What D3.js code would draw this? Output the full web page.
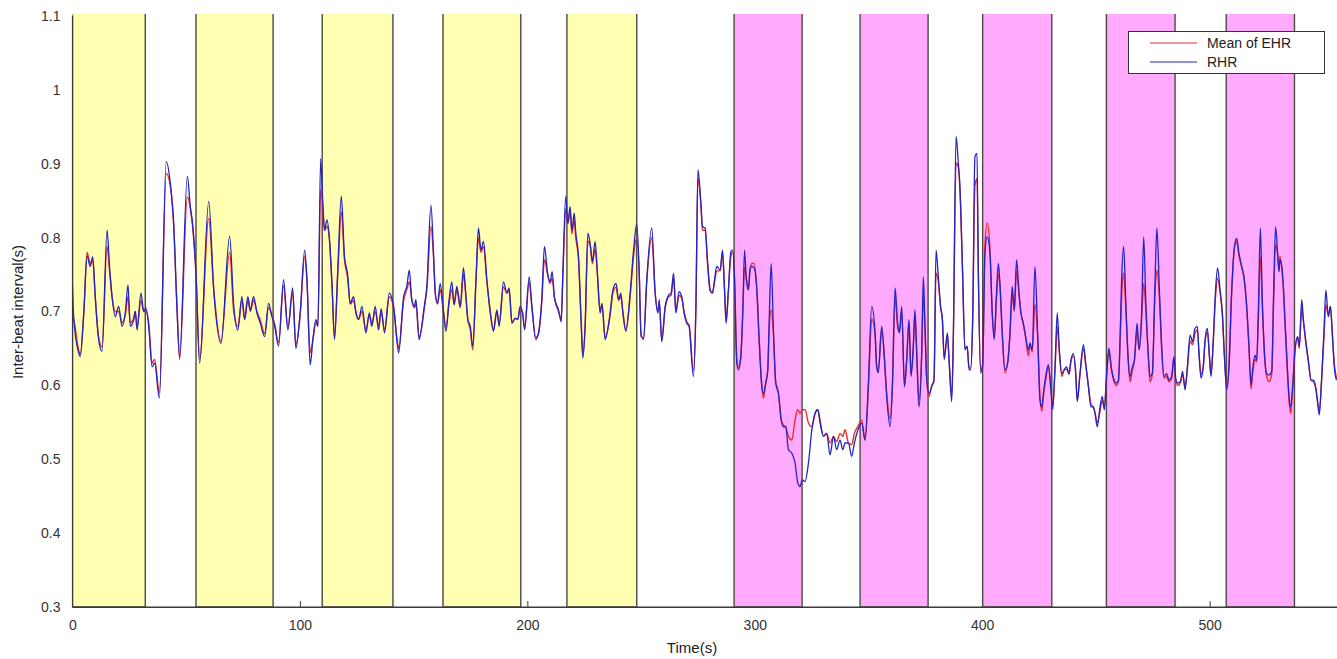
<!DOCTYPE html>
<html>
<head>
<meta charset="utf-8">
<script src="https://cdn.jsdelivr.net/npm/d3@7/dist/d3.min.js"></script>
<style>
  html, body { margin: 0; padding: 0; background: #fff; }
  svg { display: block; font-family: "Liberation Sans", Arial, sans-serif; }
</style>
</head>
<body>
<svg id="chart" width="1337" height="659"></svg>
<script>
// ---------------- data ----------------
const xTicks = [0, 100, 200, 300, 400, 500];
const yTicks = [0.3, 0.4, 0.5, 0.6, 0.7, 0.8, 0.9, 1.0, 1.1];
const yTickLabels = ["0.3", "0.4", "0.5", "0.6", "0.7", "0.8", "0.9", "1", "1.1"];

// rest periods (yellow) and task periods (pink), seconds
const yellowBands = [[0, 32], [54.3, 88.2], [109.8, 140.9], [162.9, 197.1], [217.4, 248.1]];
const pinkBands = [[290.9, 320.8], [346.3, 376.2], [400.2, 430.6], [454.6, 484.8], [507.3, 537.3]];

const seriesNames = ["Mean of EHR", "RHR"];

const time = [
  0, 0.5, 2.7, 3.4, 5.0, 6.4, 7.8, 8.9, 10, 11.5, 13, 15.2, 16.3, 17.4, 18.8, 20.3, 21.8, 23.2, 24.4, 25.4, 26.9, 27.6, 28.4, 30.1, 31.3, 32.3, 33.5, 35.0, 36.1, 38.2, 41.2, 43.0, 44.5, 45.9, 47.1, 50.5, 51.8, 52.8, 54.3, 55.9, 59.9, 62.1, 65.3, 69.1, 70.9,
  72.7, 74.5, 75.7, 77.1, 78.2, 79.6, 81.1, 82.6, 84.5, 86.2, 87.7, 88.9, 90.6, 92.8, 94.7, 96.8, 98.2, 100.1, 102.1, 103.1, 104.5, 105.7, 107.0, 107.9, 109.1, 110.0, 110.8, 111.9, 112.9, 114.1, 115.2, 116.7, 118.2, 119.6, 121.0, 122.1, 123.6, 124.6, 125.8, 127.3, 129.0, 130.5, 131.6, 133.1, 134.6, 135.7, 137.2, 139.3, 141.2, 142.6,
  143.4, 145.6, 147.0, 148.1, 149.2, 150.3, 151.0, 152.4, 154.7, 155.8, 157.6, 158.8, 159.5, 160.5, 161.7, 162.9, 164.2, 165.6, 166.8, 167.8, 169.0, 170.5, 171.9, 173.0, 173.8, 174.9, 176.0, 177.4, 178.5, 179.6, 180.7, 182.2, 183.7, 185.1, 186.6, 187.6, 189.5, 191.0, 192.0, 193.2, 194.7, 195.8, 196.8, 197.9, 198.8, 200.8, 202.0, 203.7, 204.9, 206.4, 207.5, 208.9, 210.0, 210.9, 211.9,
  213.7, 214.9, 215.6, 216.9, 217.8, 218.8, 219.6, 220.6, 221.3, 222.5, 223.7, 224.4, 225.4, 226.6, 227.6, 228.6, 229.8, 230.8, 232.0, 232.8, 234.2, 236.4, 237.6, 239.0, 240.1, 241.1, 242.0, 243.3, 245.2, 246.7, 248.1, 249.2, 250.0, 251.1, 252.5, 254.7, 256.2, 257.4, 258.0, 259.1, 260.6, 262.1, 263.2, 264.3, 265.3, 266.7, 267.9, 268.9, 270.1, 271.1, 273.0, 274.1, 275.0, 276.3, 277.0, 278.2, 279.2, 280.4, 281.4, 282.3, 283.3,
  284.8, 285.8, 286.7, 287.4, 288.4, 289.5, 290.3, 291.1, 292.1, 292.8, 293.8, 294.7, 295.5, 296.3, 297.2, 297.9, 298.7, 299.7, 300.9, 301.9, 303.1, 303.8, 304.8, 305.7, 306.3, 307.2, 308.2, 309.2, 310.4, 311.6, 312.6, 313.6, 314.8, 316.3, 317.7, 318.9, 319.9, 320.9, 322.1, 323.6, 325.1, 326.5, 327.7, 328.7, 330.2, 331.6, 333.1, 334.6, 336.0, 337.5, 338.7, 339.7, 341.2, 342.6, 343.8, 345.6, 347.0, 348.5, 350.0, 351.4, 352.9, 353.6,
  354.3, 355.8, 357.0, 358.0, 359.5, 360.5, 361.7, 362.8, 363.6, 364.6, 365.8, 366.8, 367.8, 368.7, 369.7, 370.4, 371.2, 372.2, 373.4, 374.1, 374.8, 375.6, 376.6, 377.8, 378.8, 379.7, 380.7, 381.7, 382.5, 383.3, 384.7, 385.4, 386.6, 387.3, 388.5, 389.5, 390.2, 391.3, 392.4, 393.4, 394.2, 394.9, 395.8, 396.8, 397.7, 398.3, 399.3, 400.2, 401.2, 402.2, 403.4, 404.4, 405.3, 406.3, 407.1, 407.8, 408.8, 410.0, 411.2, 412.2, 413.2, 414.1, 415.1, 416.2, 417.0, 418.1, 419.1, 420.3, 421.0, 422.0, 423.2,
  424.4, 425.4, 426.2, 426.9, 427.9, 429.1, 430.1, 431.0, 432.0, 433.0, 433.9, 435.0, 436.0, 437.1, 438.2, 439.0, 440.1, 441.1, 441.8, 443.0, 444.5, 445.5, 446.7, 447.8, 448.9, 449.6, 450.6, 451.8, 452.8, 453.7, 454.7, 455.7, 456.9, 458.0, 458.8, 459.9, 460.6, 461.3, 462.2, 463.2, 464.2, 465.0, 466.0, 466.9, 468.1, 469.0, 470.1, 471.0, 472.0, 473.0, 473.8, 474.8, 476.0, 476.8, 477.9, 478.9, 479.9, 481.1, 482.1, 483.3, 484.3, 485.2, 486.2, 487.3, 488.1, 489.2, 490.2, 491.4, 492.5, 493.5,
  494.6, 495.3, 496.2, 497.2, 498.0, 499.0, 499.9, 500.6, 501.6, 502.6, 503.5, 504.6, 505.6, 506.5, 507.5, 508.5, 509.7, 510.9, 511.9, 512.9, 514.1, 515.1, 516.3, 517.3, 518.2, 518.9, 519.9, 520.7, 521.4, 522.3, 523.2, 524.3, 525.1, 526.1, 527.3, 528.1, 529.0, 529.8, 530.5, 530.9, 531.7, 532.4, 533.1, 534.2, 534.9, 535.6, 536.5, 537.5, 538.7, 539.4, 540.5, 541.2, 542.2, 543.4, 544.6, 545.6, 546.6, 547.5, 548.2, 549.2, 550.3, 551.1, 552.2, 553.1, 553.9, 554.8, 555.8
];

const rhr = [
  .735,.693,.644,.639,.70,.775,.761,.774,.72,.662,.646,.810,.76,.720,.693,.707,.680,.698,.736,.680,.689,.70,.675,.725,.700,.705,.680,.625,.630,.583,.903,.874,.819,.707,.639,.883,.842,.819,.752,.630,.849,.729,.657,.802,.707,
  .675,.720,.689,.720,.702,.720,.698,.684,.666,.711,.693,.680,.653,.743,.675,.732,.650,.698,.783,.743,.628,.662,.689,.680,.907,.851,.810,.824,.801,.738,.662,.761,.856,.774,.750,.711,.720,.698,.689,.707,.671,.698,.680,.707,.675,.704,.671,.725,.707,.662,
  .644,.720,.734,.756,.716,.707,.716,.662,.707,.734,.844,.774,.725,.711,.738,.707,.673,.716,.740,.709,.734,.707,.759,.720,.689,.680,.653,.743,.813,.783,.795,.743,.698,.673,.702,.680,.740,.725,.732,.684,.691,.689,.707,.698,.675,.747,.707,.662,.671,.720,.788,.752,.740,.754,.720,
  .702,.686,.752,.856,.819,.842,.810,.833,.806,.774,.680,.637,.680,.806,.792,.768,.795,.752,.698,.711,.662,.698,.729,.738,.716,.725,.698,.673,.725,.783,.819,.752,.666,.664,.743,.813,.725,.698,.716,.659,.707,.722,.725,.752,.698,.727,.720,.698,.684,.680,.612,.707,.892,.847,.815,.813,.770,.729,.725,.743,.761,
  .756,.783,.729,.684,.729,.781,.783,.743,.630,.621,.635,.698,.783,.743,.729,.756,.761,.759,.729,.662,.598,.589,.603,.621,.684,.765,.675,.603,.589,.553,.544,.544,.513,.508,.495,.468,.463,.472,.470,.495,.540,.562,.567,.549,.531,.535,.506,.531,.513,.526,.513,.522,.522,.504,.522,.542,.549,.526,.607,.707,.671,.625,
  .617,.680,.635,.585,.544,.598,.732,.684,.671,.707,.598,.635,.689,.612,.653,.702,.644,.571,.644,.747,.684,.608,.589,.598,.608,.783,.747,.707,.689,.635,.671,.635,.578,.666,.937,.901,.869,.761,.648,.653,.621,.621,.689,.910,.914,.756,.617,.626,.779,.801,.779,.698,.662,.725,.765,.738,.671,.621,.630,.671,.734,.702,.770,.725,.698,.684,.666,.648,.657,.648,.761,
  .666,.580,.571,.589,.612,.628,.598,.567,.625,.698,.648,.616,.621,.625,.616,.634,.643,.616,.578,.616,.655,.630,.598,.571,.571,.562,.544,.571,.585,.567,.616,.650,.621,.607,.603,.607,.662,.743,.788,.707,.634,.612,.625,.634,.684,.648,.698,.801,.707,.643,.612,.616,.743,.813,.729,.653,.612,.616,.607,.612,.639,.607,.603,.607,.619,.594,.625,.668,.659,.677,
  .680,.644,.610,.625,.662,.677,.639,.612,.662,.729,.759,.729,.698,.639,.594,.625,.729,.788,.799,.779,.761,.747,.707,.653,.601,.621,.641,.634,.698,.813,.711,.634,.616,.614,.619,.720,.815,.783,.754,.770,.761,.734,.689,.621,.585,.571,.598,.648,.666,.653,.716,.689,.662,.634,.607,.607,.598,.576,.560,.607,.675,.729,.693,.707,.671,.625,.607
];

const ehr = [
  .695,.69,.648,.642,.70,.78,.765,.77,.72,.665,.652,.788,.755,.72,.70,.70,.685,.695,.72,.685,.69,.70,.68,.715,.70,.70,.685,.63,.635,.59,.887,.87,.815,.71,.635,.855,.84,.815,.75,.635,.826,.73,.66,.78,.70,
  .68,.715,.69,.715,.70,.715,.70,.688,.67,.705,.695,.683,.658,.735,.678,.725,.655,.695,.775,.74,.644,.662,.685,.68,.865,.845,.81,.815,.80,.735,.665,.755,.835,.77,.745,.71,.715,.70,.69,.70,.675,.695,.683,.70,.68,.70,.675,.72,.705,.665,
  .65,.715,.73,.74,.715,.705,.71,.665,.705,.73,.815,.77,.725,.71,.73,.705,.678,.712,.73,.71,.73,.705,.75,.72,.69,.675,.648,.74,.80,.78,.788,.74,.70,.675,.70,.683,.733,.725,.728,.686,.69,.69,.703,.698,.678,.74,.705,.665,.67,.715,.77,.75,.738,.745,.718,
  .70,.69,.745,.84,.82,.835,.805,.825,.80,.77,.685,.642,.68,.795,.79,.765,.785,.75,.70,.71,.665,.695,.725,.733,.715,.72,.70,.675,.72,.775,.80,.75,.67,.662,.74,.80,.725,.70,.712,.662,.705,.72,.722,.745,.70,.722,.718,.70,.686,.682,.62,.70,.88,.845,.81,.81,.765,.728,.725,.74,.755,
  .755,.78,.73,.688,.728,.775,.78,.745,.635,.625,.638,.695,.76,.745,.73,.757,.765,.765,.73,.665,.60,.583,.603,.62,.675,.702,.67,.605,.59,.555,.546,.544,.531,.526,.553,.567,.562,.567,.567,.549,.544,.562,.567,.553,.531,.535,.522,.531,.524,.535,.531,.540,.522,.520,.535,.546,.553,.526,.60,.69,.668,.625,
  .62,.675,.638,.59,.555,.60,.72,.68,.672,.70,.60,.635,.685,.615,.652,.695,.645,.58,.642,.72,.68,.61,.585,.60,.605,.752,.74,.705,.688,.638,.668,.637,.585,.665,.901,.895,.865,.76,.65,.652,.625,.623,.685,.87,.88,.75,.62,.63,.79,.82,.785,.70,.665,.72,.75,.735,.672,.617,.632,.668,.725,.70,.755,.722,.70,.682,.665,.64,.655,.645,.71,
  .665,.585,.565,.585,.607,.625,.60,.572,.62,.68,.645,.612,.62,.622,.615,.632,.64,.618,.58,.615,.65,.628,.60,.575,.57,.563,.55,.565,.58,.57,.612,.645,.62,.605,.60,.605,.655,.72,.752,.70,.635,.605,.62,.632,.675,.648,.69,.738,.70,.64,.605,.615,.725,.756,.72,.65,.61,.612,.605,.61,.635,.605,.60,.605,.615,.598,.622,.66,.655,.67,
  .675,.645,.615,.625,.66,.672,.64,.615,.66,.72,.745,.725,.695,.64,.598,.625,.725,.785,.795,.775,.76,.745,.705,.65,.595,.615,.635,.632,.69,.774,.705,.632,.612,.605,.615,.71,.79,.78,.755,.775,.76,.733,.688,.62,.58,.562,.595,.645,.665,.65,.705,.688,.66,.632,.607,.605,.597,.578,.565,.605,.668,.709,.695,.707,.675,.63,.61
];

// ---------------- drawing ----------------
(function draw() {
  const W = 1337, H = 659;
  const pL = 72.5, pR = 1337, pT = 16, pB = 607;
  const svg = d3.select("#chart");

  const x = d3.scaleLinear().domain([0, 556]).range([pL, pR]);
  const y = d3.scaleLinear().domain([0.3, 1.1]).range([pB, pT]);

  svg.append("rect").attr("width", W).attr("height", H).attr("fill", "#fff");

  svg.append("defs").append("clipPath").attr("id", "plotclip")
    .append("rect").attr("x", pL).attr("y", pT - 2).attr("width", pR - pL).attr("height", pB - pT + 2);

  // axes (ticks inside, MATLAB style)
  const xAxis = d3.axisBottom(x).tickValues(xTicks).tickSizeInner(-6).tickSizeOuter(0).tickPadding(10)
    .tickFormat(d => String(d));
  const gx = svg.append("g").attr("transform", `translate(0,${pB})`).call(xAxis);
  const yAxis = d3.axisLeft(y).tickValues(yTicks).tickSizeInner(-6).tickSizeOuter(0).tickPadding(12)
    .tickFormat((d, i) => yTickLabels[i]);
  const gy = svg.append("g").attr("transform", `translate(${pL},0)`).call(yAxis);
  [gx, gy].forEach(g => {
    g.select(".domain").attr("stroke", "#3a3a3a").attr("stroke-width", 1.2);
    g.selectAll(".tick line").attr("stroke", "#3a3a3a");
    g.selectAll(".tick text").attr("fill", "#333").attr("font-size", 14)
      .attr("font-family", "'Liberation Sans', Arial, sans-serif");
  });
  gx.selectAll(".tick text").attr("dy", "0.9em");

  // bands
  const plot = svg.append("g").attr("clip-path", "url(#plotclip)");
  function drawBands(bands, fill) {
    plot.selectAll(null).data(bands).enter().append("rect")
      .attr("x", d => x(d[0]))
      .attr("y", pT - 5)
      .attr("width", d => x(d[1]) - x(d[0]))
      .attr("height", pB - pT + 5)
      .attr("fill", fill)
      .attr("stroke", "#4a4a40")
      .attr("stroke-width", 1.4);
  }
  drawBands(yellowBands, "#ffffb2");
  drawBands(pinkBands, "#ffaaff");

  // lines
  const rows = time.map((t, i) => ({ t, rhr: rhr[i], ehr: ehr[i] }));
  const lineE = d3.line().x(d => x(d.t)).y(d => y(d.ehr)).curve(d3.curveMonotoneX);
  const lineR = d3.line().x(d => x(d.t)).y(d => y(d.rhr)).curve(d3.curveMonotoneX);
  const redColor = "#ee2a2a", blueColor = "#2424c4";
  plot.append("path").datum(rows).attr("d", lineE).attr("fill", "none")
    .attr("stroke", redColor).attr("stroke-width", 1.4).attr("stroke-linejoin", "round");
  plot.append("path").datum(rows).attr("d", lineR).attr("fill", "none")
    .attr("stroke", blueColor).attr("stroke-width", 1.3).attr("stroke-linejoin", "round");

  // axis lines on top
  svg.append("line").attr("x1", pL).attr("x2", pR).attr("y1", pB).attr("y2", pB)
    .attr("stroke", "#3a3a3a").attr("stroke-width", 1.2);
  svg.append("line").attr("x1", pL).attr("x2", pL).attr("y1", pT).attr("y2", pB)
    .attr("stroke", "#3a3a3a").attr("stroke-width", 1.2);

  // axis titles
  svg.append("text").attr("x", 692).attr("y", 653).attr("text-anchor", "middle")
    .attr("font-size", 15).attr("fill", "#222").text("Time(s)");
  svg.append("text").attr("transform", "translate(23,312) rotate(-90)").attr("text-anchor", "middle")
    .attr("font-size", 15).attr("fill", "#222").text("Inter-beat interval(s)");

  // legend
  const lg = svg.append("g");
  lg.append("rect").attr("x", 1128.5).attr("y", 31.5).attr("width", 196).attr("height", 42)
    .attr("fill", "#fff").attr("stroke", "#333").attr("stroke-width", 1);
  const legendColors = [redColor, blueColor];
  seriesNames.forEach((name, i) => {
    const yy = 43 + i * 19;
    lg.append("line").attr("x1", 1150).attr("x2", 1197).attr("y1", yy).attr("y2", yy)
      .attr("stroke", legendColors[i]).attr("stroke-width", 1.1);
    lg.append("text").attr("x", 1207).attr("y", yy + 5).attr("font-size", 14).attr("fill", "#222").text(name);
  });
})();
</script>
</body>
</html>
